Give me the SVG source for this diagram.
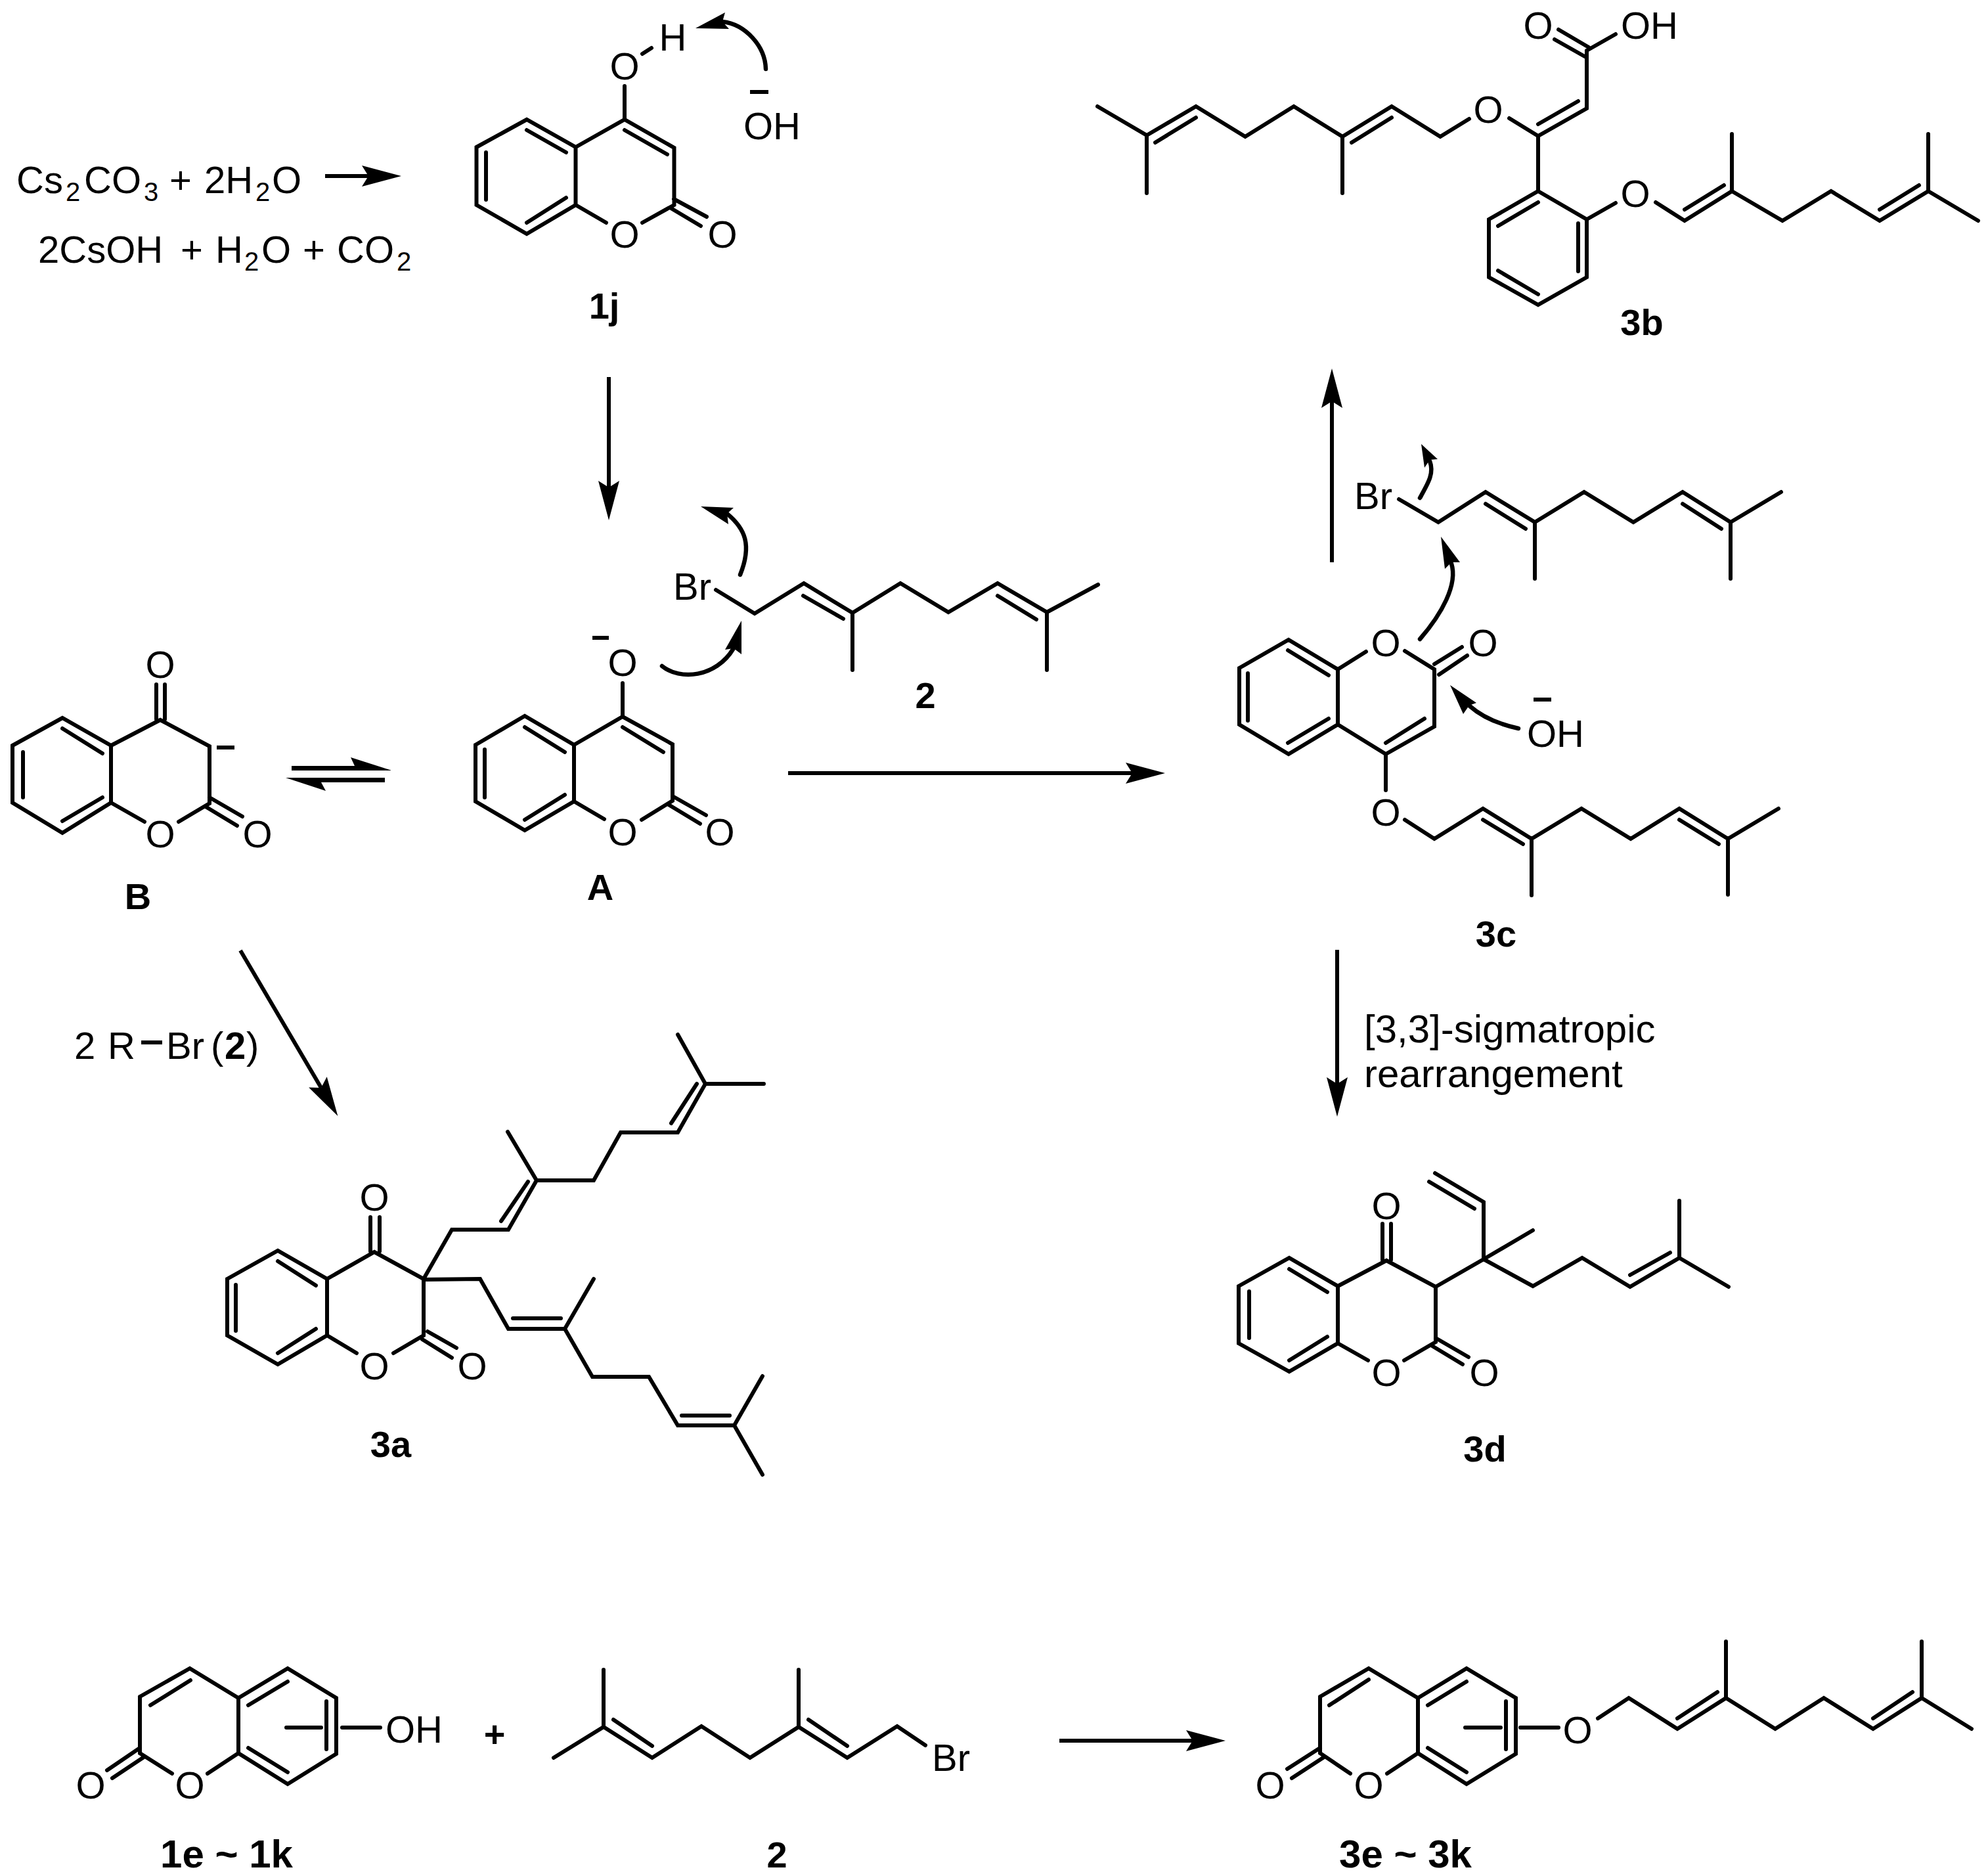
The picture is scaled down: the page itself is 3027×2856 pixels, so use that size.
<svg xmlns="http://www.w3.org/2000/svg" width="3027" height="2856" viewBox="0 0 3027 2856">
<style>
text{font-family:"Liberation Sans",Arial,sans-serif;font-size:58px;fill:#000}
.m{text-anchor:middle}
.l{font-weight:bold;font-size:56px}
.w{font-size:60px}
.s{font-size:40px}
.b{fill:none;stroke:#000;stroke-width:6;stroke-linejoin:miter;stroke-linecap:round}
.a{fill:none;stroke:#000;stroke-width:6}
.c{fill:none;stroke:#000;stroke-width:6.5;stroke-linecap:round}
.h{fill:#000;stroke:none}
</style>
<defs>
<marker id="ah" markerUnits="userSpaceOnUse" markerWidth="64" markerHeight="34" viewBox="0 0 64 34" refX="10" refY="17" orient="auto"><path d="M0,1 L60,17 L0,33 L10,17 Z" fill="#000"/></marker>
</defs>
<rect width="3027" height="2856" fill="#fff"/>

<g id="connectors">
<path class="a" marker-end="url(#ah)" d="M495,268 H561"/>
<path class="a" marker-end="url(#ah)" d="M927,574 V742"/>
<path class="a" marker-end="url(#ah)" d="M1200,1177 H1724"/>
<path class="a" marker-end="url(#ah)" d="M2028,856 V611"/>
<path class="a" marker-end="url(#ah)" d="M2036,1446 V1650"/>
<path class="a" marker-end="url(#ah)" d="M366,1447 L489,1656"/>
<path class="a" marker-end="url(#ah)" d="M1613,2650 H1816"/>
<path class="h" d="M444,1166 H540 L534,1153 L595,1172.5 V1173 H444 Z"/>
<path class="h" d="M435,1184 H586 V1191 H489 L496,1204 Z"/>
<path class="c" d="M1166,105 C1165,70 1135,37 1100,33"/>
<polygon class="h" points="1059,43 1104,19 1100,33 1110,44"/>
<path class="c" d="M1127,875 C1145,830 1135,805 1107,782"/>
<polygon class="h" points="1067,771 1117,773 1107,782 1109,798"/>
<path class="c" d="M1008,1014 C1035,1036 1090,1032 1117,987"/>
<polygon class="h" points="1129,945 1104,989 1117,987 1129,996"/>
<path class="c" d="M2162,758 C2175,735 2184,720 2177,702"/>
<polygon class="h" points="2164,676 2189,699 2177,700 2169,712"/>
<path class="c" d="M2162,973 C2195,935 2220,890 2210,858"/>
<polygon class="h" points="2194,817 2223,856 2210,856 2200,866"/>
<path class="c" d="M2312,1109 C2280,1102 2255,1090 2238,1075"/>
<polygon class="h" points="2208,1043 2248,1070 2237,1074 2228,1087"/>
</g>

<g id="reagents">
<text y="294"><tspan x="25">Cs</tspan><tspan class="s" x="100" y="306">2</tspan><tspan x="128" y="294">CO</tspan><tspan class="s" x="219" y="306">3</tspan><tspan x="258" y="294">+</tspan><tspan x="311">2H</tspan><tspan class="s" x="389" y="306">2</tspan><tspan x="414" y="294">O</tspan></text>
<text y="400"><tspan x="58">2CsOH</tspan><tspan x="275">+</tspan><tspan x="328">H</tspan><tspan class="s" x="372" y="412">2</tspan><tspan x="398" y="400">O</tspan><tspan x="461">+</tspan><tspan x="513">CO</tspan><tspan class="s" x="604" y="412">2</tspan></text>
</g>

<g id="node-1j">
<path class="b" d="M725.5,224 L802,182 L876.5,224 V312 L802,356 L725.5,312 Z M740,232 V304 M802,198 L862,232 M802,339 L862,301 M876.5,224 L951,182 L1026.5,225 V312 L978,339 M876.5,312 L923,339 M951,198 L1016,235 M1026,303 L1076,330 M1020,316 L1067,344 M951,131 V182 M978,82 L992,73"/>
<text class="m" x="951" y="121">O</text><text class="m" x="1024.5" y="77">H</text>
<text class="m" x="951" y="377">O</text><text class="m" x="1100" y="377">O</text>
<path class="a" d="M1142,140 H1170"/>
<text x="1132" y="212">OH</text>
<text class="m l" x="920" y="485">1j</text>
</g>

<g id="node-3b">
<path class="b" d="M1671,162 L1746,206 V294 M1746,206 L1821,162 L1896,208 L1970,162 L2044,208 V294 M2044,208 L2119,162 L2193,208 L2237,181 M1759,217 L1821,179 M2058,217 L2119,179 M2298,180 L2342,207 L2416,165 V77 M2342,189 L2403,154 M2373,45 L2419,72 M2367,60 L2413,86 M2416,77 L2460,52 M2342,207 V291 M2342,291 L2416,334 V422 L2342,464 L2267,422 V334 Z M2281,344 L2342,308 M2403,340 V413 M2281,412 L2342,448 M2416,334 L2460,309 M2521,308 L2565,336 L2637,291 V204 M2637,291 L2714,336 L2788,291 L2862,336 L2936,291 V204 M2936,291 L3012,336 M2565,319 L2625,282 M2862,319 L2922,282"/>
<text class="m" x="2266" y="187">O</text><text class="m" x="2342" y="59">O</text><text x="2468" y="59">OH</text><text class="m" x="2490" y="315">O</text>
<text class="m l" x="2500" y="510">3b</text>
</g>

<g id="node-2-top">
<path class="b" d="M1090,898 L1149,934 L1224,888 L1298,933 V1020 M1298,933 L1371,888 L1444,932 L1519,888 L1594,932 V1020 M1594,932 L1672,890 M1223,907 L1284,942 M1519,907 L1578,943"/>
<text x="1025" y="913">Br</text>
<text class="m l" x="1409" y="1078">2</text>
</g>

<g id="node-A">
<path class="b" d="M724,1134 L799,1090 L874,1134 V1220 L799,1264 L724,1220 Z M738,1141 V1214 M799,1107 L860,1145 M799,1248 L860,1210 M874,1134 L948,1091 L1024,1133 V1219 L977,1248 M874,1220 L920,1247 M948,1107 L1010,1145 M1024,1212 L1075,1241 M1018,1225 L1066,1254 M948,1040 V1091"/>
<text class="m" x="948" y="1029">O</text><text class="m" x="948" y="1287">O</text><text class="m" x="1096" y="1287">O</text>
<path class="a" d="M902,971 H927"/>
<text class="m l" x="914" y="1370">A</text>
</g>

<g id="node-B">
<path class="b" d="M19,1135 L95,1093 L169,1135 V1222 L95,1268 L19,1222 Z M35,1145 V1214 M95,1109 L156,1147 M95,1250 L156,1214 M169,1135 L244,1096 L319,1136 V1223 L272,1251 M169,1222 L220,1251 M319,1214 L369,1243 M313,1228 L361,1257 M238,1042 V1095 M251,1042 V1095"/>
<text class="m" x="244" y="1032">O</text><text class="m" x="244" y="1290">O</text><text class="m" x="392" y="1290">O</text>
<path class="a" d="M330,1138 H357"/>
<text class="m l" x="210" y="1384">B</text>
</g>

<g id="node-2-3c">
<path class="b" d="M2130,760 L2190,795 L2262,749 L2337,795 V881 M2337,795 L2412,749 L2487,795 L2562,749 L2635,795 V881 M2635,795 L2712,749 M2262,767 L2323,805 M2562,767 L2621,805"/>
<text x="2062" y="775">Br</text>
</g>

<g id="node-3c">
<path class="b" d="M1887,1017 L1962,974 L2037,1019 V1103 L1962,1148 L1887,1103 Z M1900,1025 V1097 M1961,990 L2023,1028 M1961,1131 L2023,1094 M2037,1019 L2080,992 M2139,991 L2184,1019 V1106 L2110,1148 L2037,1103 M2110,1131 L2169,1094 M2184,1011 L2226,985 M2191,1027 L2234,998 M2110,1148 V1203 M2139,1248 L2184,1277 L2258,1231 L2332,1277 V1363 M2332,1277 L2408,1231 L2483,1277 L2557,1231 L2631,1277 V1362 M2631,1277 L2708,1231 M2258,1248 L2319,1285 M2557,1248 L2617,1285"/>
<text class="m" x="2110" y="999">O</text><text class="m" x="2258" y="999">O</text><text class="m" x="2110" y="1257">O</text>
<path class="a" d="M2335,1065 H2362"/>
<text x="2325" y="1137">OH</text>
<text class="m l" x="2278" y="1441">3c</text>
</g>

<g id="node-3d">
<text class="w" x="2077" y="1587">[3,3]-sigmatropic</text>
<text class="w" x="2077" y="1655">rearrangement</text>
<path class="b" d="M1886,1958 L1963,1915 L2037,1958 V2045 L1963,2088 L1886,2045 Z M1902,1966 V2037 M1963,1932 L2021,1967 M1963,2071 L2021,2035 M2037,1958 L2111,1919 L2186,1959 V2043 L2138,2071 M2037,2045 L2083,2071 M2186,2037 L2236,2066 M2179,2048 L2227,2077 M2105,1863 V1918 M2118,1863 V1918 M2186,1959 L2259,1917 V1830 L2185,1786 M2245,1840 L2176,1799 M2259,1917 L2334,1873 M2259,1917 L2334,1958 L2409,1915 L2482,1959 L2557,1915 V1828 M2557,1915 L2632,1959 M2482,1941 L2543,1907"/>
<text class="m" x="2111" y="1856">O</text><text class="m" x="2111" y="2110">O</text><text class="m" x="2260" y="2110">O</text>
<text class="m l" x="2261" y="2225">3d</text>
</g>

<g id="node-3a">
<text x="113" y="1612">2</text><text x="164" y="1612">R</text>
<path class="a" d="M215,1587 H247"/>
<text x="253" y="1612">Br</text><text x="321" y="1612">(</text><text class="l" x="342" y="1612" style="font-size:58px">2</text><text x="375" y="1612">)</text>
<path class="b" d="M346,1947 L423,1904 L498,1947 V2033 L423,2077 L346,2033 Z M359,1956 V2026 M423,1920 L481,1957 M423,2060 L481,2023 M498,1947 L570,1906 L645,1947 V2033 L599,2060 M498,2033 L543,2060 M564,1853 V1905 M578,1853 V1905 M651,2027 L695,2052 M643,2039 L688,2067 M645,1947 L688,1872 L774,1872 L817,1797 L773,1723 M817,1797 L904,1797 L945,1724 L1032,1724 L1074,1650 L1032,1575 M1074,1650 L1163,1650 M763,1859 L804,1799 M1022,1710 L1061,1650 M645,1948 L731,1947 L774,2023 L860,2023 L904,1947 M860,2023 L902,2096 L988,2096 L1032,2170 L1118,2170 L1161,2095 M1118,2170 L1161,2245 M781,2007 L854,2007 M1038,2155 L1111,2155"/>
<text class="m" x="570" y="1843">O</text><text class="m" x="570" y="2100">O</text><text class="m" x="719" y="2100">O</text>
<text class="m l" x="595" y="2218">3a</text>
</g>

<g id="node-1e">
<path class="b" d="M213,2583 L289,2540 L363,2585 L438,2540 L512,2585 V2670 L438,2716 L363,2669 V2585 M213,2583 V2669 L262,2700 M363,2669 L316,2700 M229,2596 L290,2558 M378,2596 L438,2560 M497,2590 V2663 M378,2661 L438,2698 M213,2661 L163,2695 M219,2675 L171,2707 M436,2630 H489 M521,2630 H579"/>
<text class="m" x="138" y="2738">O</text><text class="m" x="289" y="2738">O</text><text x="587" y="2653">OH</text>
<text class="m l" x="753" y="2659">+</text>
<text class="m l" x="345" y="2843" style="font-size:60px">1e ~ 1k</text>
</g>

<g id="node-2-bottom">
<path class="b" d="M843,2676 L919,2629 V2542 M919,2629 L993,2676 L1068,2628 L1142,2676 L1216,2629 V2542 M1216,2629 L1290,2676 L1366,2628 L1409,2657 M934,2618 L993,2658 M1231,2618 L1290,2658"/>
<text x="1419" y="2696">Br</text>
<text class="m l" x="1183" y="2843">2</text>
</g>

<g id="node-3e">
<path class="b" d="M2010,2583 L2084,2540 L2159,2585 L2233,2540 L2308,2585 V2670 L2233,2716 L2159,2669 V2585 M2010,2583 V2669 L2056,2700 M2159,2669 L2112,2700 M2024,2596 L2084,2557 M2174,2596 L2233,2560 M2293,2590 V2663 M2174,2661 L2233,2698 M2010,2661 L1960,2693 M2016,2675 L1967,2707 M2231,2630 H2285 M2315,2630 H2373 M2433,2616 L2480,2585 L2554,2632 L2628,2585 V2499 M2628,2585 L2703,2632 L2777,2585 L2852,2632 L2926,2585 V2499 M2926,2585 L3002,2632 M2554,2616 L2615,2576 M2852,2616 L2912,2576"/>
<text class="m" x="1934" y="2738">O</text><text class="m" x="2084" y="2738">O</text><text class="m" x="2402" y="2654">O</text>
<text class="m l" x="2140" y="2843" style="font-size:60px">3e ~ 3k</text>
</g>
</svg>
